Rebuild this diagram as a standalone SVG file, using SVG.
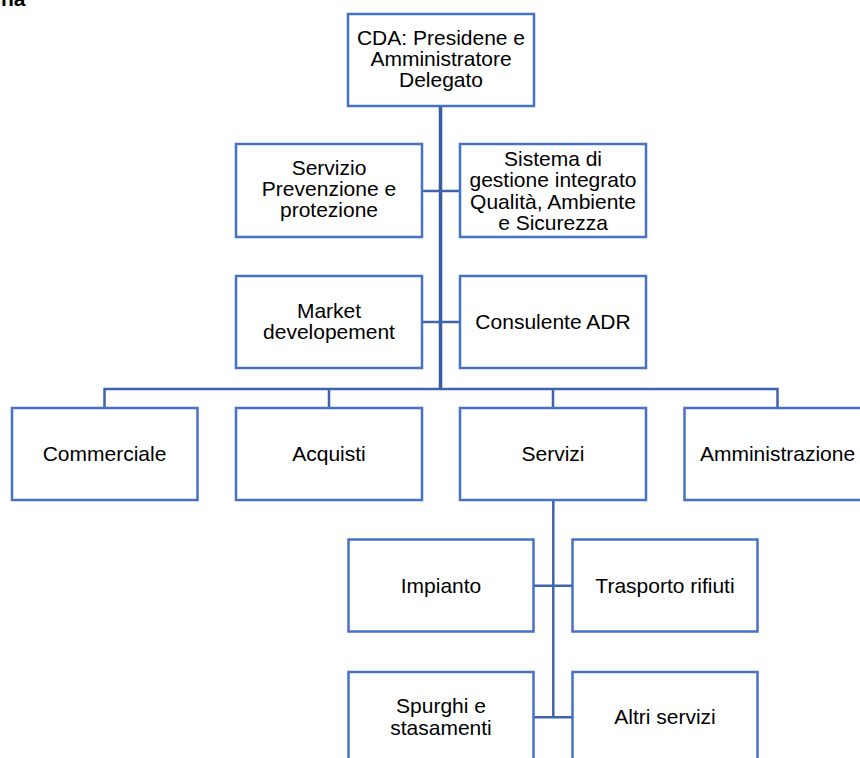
<svg xmlns="http://www.w3.org/2000/svg" width="860" height="758" viewBox="0 0 860 758">
<style>
.box{fill:#fff;stroke:#4472C4;stroke-width:2.5}
.t{font-family:"Liberation Sans",Arial,sans-serif;font-size:21px;fill:#000;text-anchor:middle}
.c{stroke:#3F64AE;stroke-width:2.5;fill:none}
.trunk{stroke:#3A5BA0;stroke-width:3.5;fill:none}
</style>
<rect width="860" height="758" fill="#fff"/>
<text x="1" y="6" style="font-family:'Liberation Sans',Arial,sans-serif;font-size:21px;font-weight:bold">na</text>
<g id="connectors">
<path class="trunk" d="M440.5 106V389"/>
<path class="c" d="M422 191H460M422 322H460"/>
<path class="c" d="M104.5 408V389H777.5V408M329 389V408M553 389V408"/>
<path class="c" d="M553.3 500V717.3M533.5 585.7H572.5M533.5 717.3H572.5"/>
</g>
<g id="cda"><rect class="box" x="348" y="14" width="186" height="92"/><text class="t" x="441" y="45">CDA: Presidene e</text><text class="t" x="441" y="66">Amministratore</text><text class="t" x="441" y="87">Delegato</text></g>
<g id="spp"><rect class="box" x="236" y="144" width="186" height="93"/><text class="t" x="329" y="175">Servizio</text><text class="t" x="329" y="196">Prevenzione e</text><text class="t" x="329" y="217">protezione</text></g>
<g id="sgi"><rect class="box" x="460" y="144" width="186" height="93"/><text class="t" x="553" y="166">Sistema di</text><text class="t" x="553" y="187">gestione integrato</text><text class="t" x="553" y="208.5">Qualità, Ambiente</text><text class="t" x="553" y="230">e Sicurezza</text></g>
<g id="market"><rect class="box" x="236" y="276" width="186" height="92"/><text class="t" x="329" y="317.5">Market</text><text class="t" x="329" y="339">developement</text></g>
<g id="adr"><rect class="box" x="460" y="276" width="186" height="92"/><text class="t" x="553" y="328.5">Consulente ADR</text></g>
<g id="commerciale"><rect class="box" x="12" y="408" width="185.5" height="92"/><text class="t" x="104.5" y="461">Commerciale</text></g>
<g id="acquisti"><rect class="box" x="236" y="408" width="186" height="92"/><text class="t" x="329" y="461">Acquisti</text></g>
<g id="servizi"><rect class="box" x="460" y="408" width="186" height="92"/><text class="t" x="553" y="461">Servizi</text></g>
<g id="amministrazione"><rect class="box" x="684.5" y="408" width="186" height="92"/><text class="t" x="777.5" y="461">Amministrazione</text></g>
<g id="impianto"><rect class="box" x="348.5" y="539.5" width="185" height="92"/><text class="t" x="441" y="593">Impianto</text></g>
<g id="trasporto"><rect class="box" x="572.5" y="539.5" width="185" height="92"/><text class="t" x="665" y="593">Trasporto rifiuti</text></g>
<g id="spurghi"><rect class="box" x="348.5" y="672" width="185" height="100"/><text class="t" x="441" y="713">Spurghi e</text><text class="t" x="441" y="734.5">stasamenti</text></g>
<g id="altri"><rect class="box" x="572.5" y="672" width="185" height="100"/><text class="t" x="665" y="723.5">Altri servizi</text></g>
</svg>
